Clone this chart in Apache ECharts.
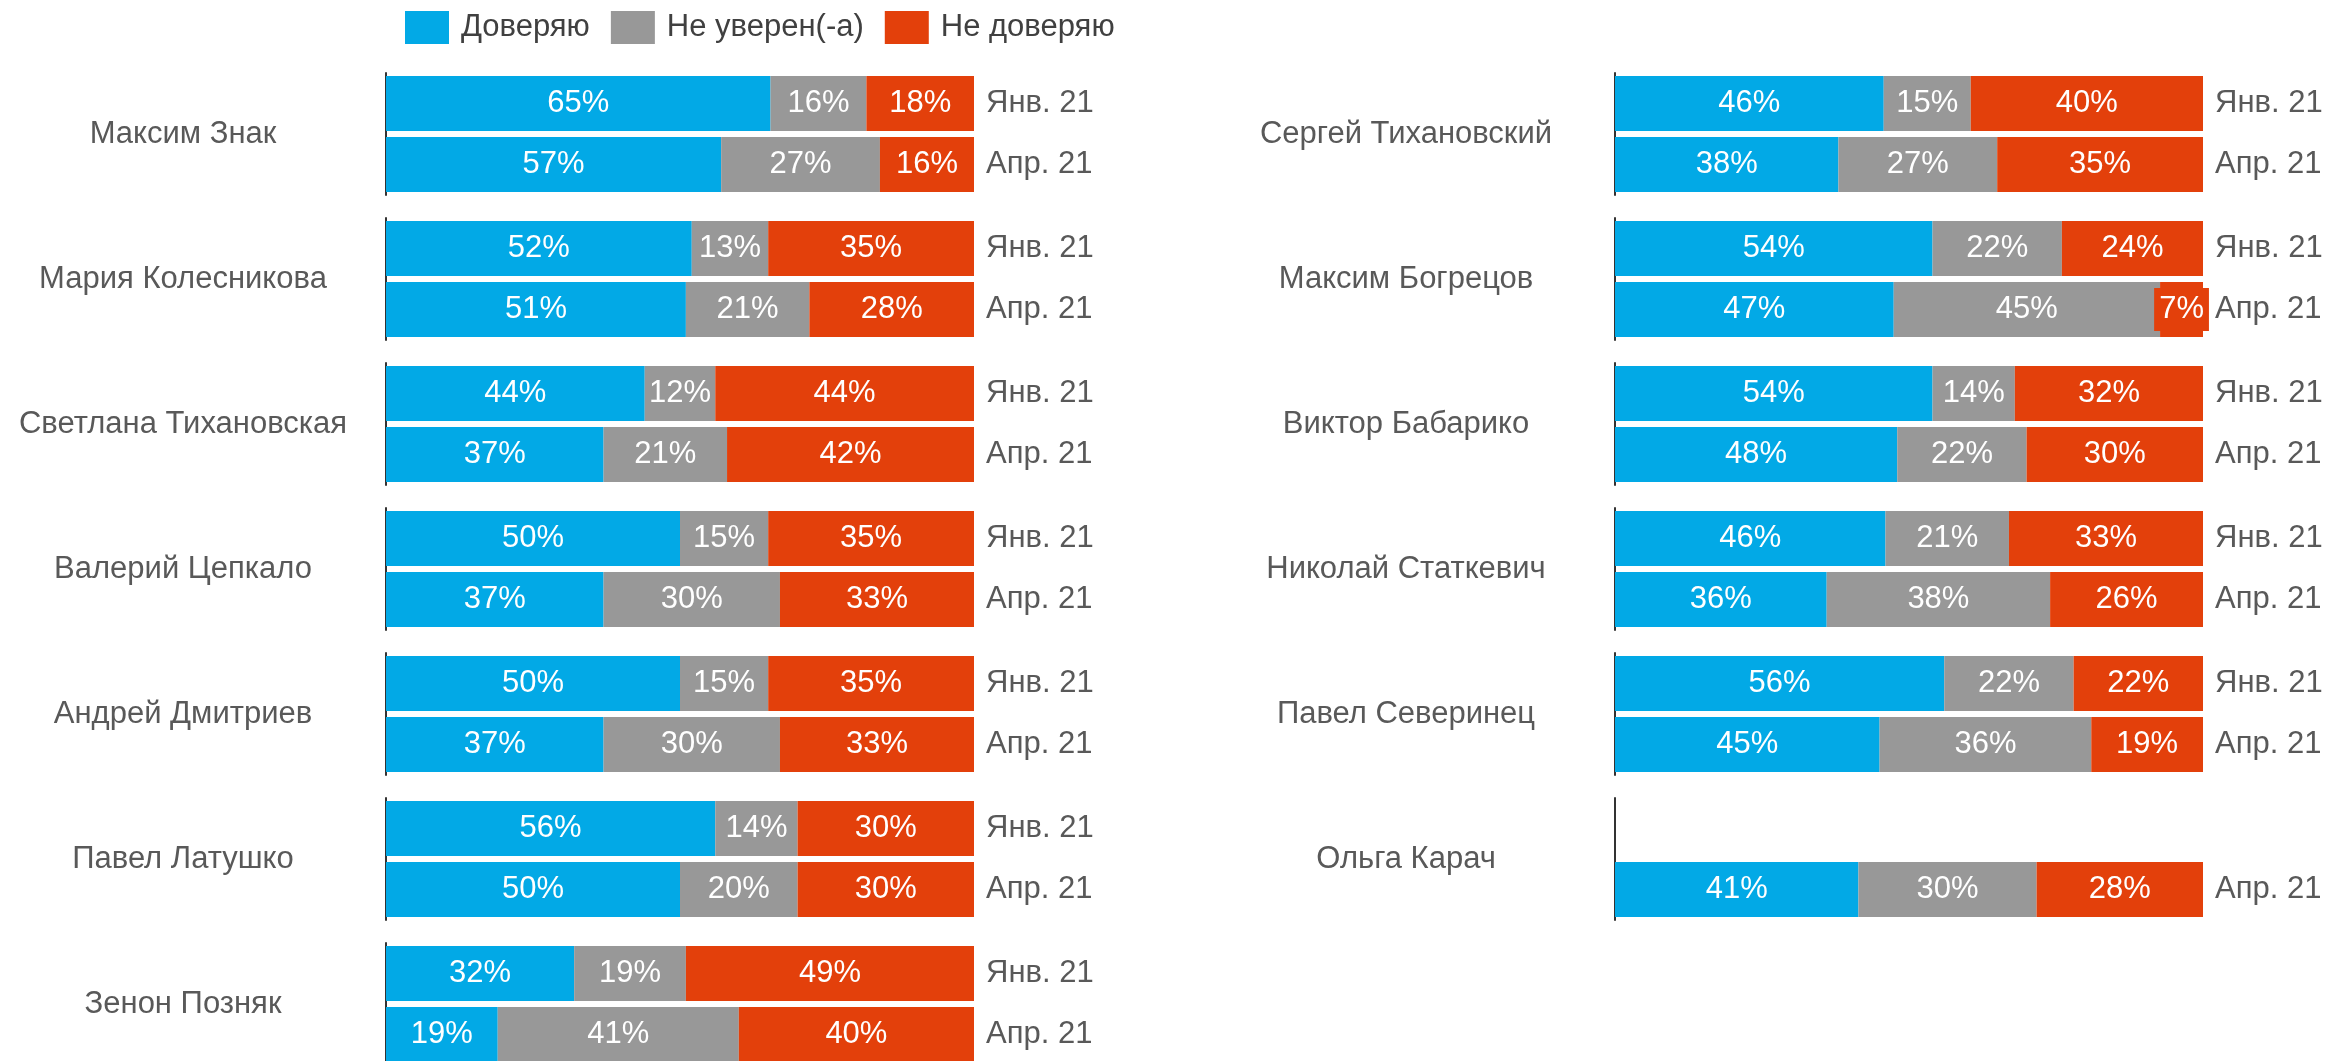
<!DOCTYPE html>
<html>
<head>
<meta charset="utf-8">
<script src="https://cdn.jsdelivr.net/npm/echarts@6/dist/echarts.min.js"></script>
<style>
  html, body { margin: 0; padding: 0; background: #fff; }
  #Chart { width: 2328px; height: 1061px; }
</style>
</head>
<body>
<div id="Chart"></div>
<script>
// кандидаты: первые 7 - левая колонка, остальные - правая
const names = [
  'Максим Знак', 'Мария Колесникова', 'Светлана Тихановская', 'Валерий Цепкало',
  'Андрей Дмитриев', 'Павел Латушко', 'Зенон Позняк',
  'Сергей Тихановский', 'Максим Богрецов', 'Виктор Бабарико', 'Николай Статкевич',
  'Павел Северинец', 'Ольга Карач'
];
const periods = ['Янв. 21', 'Апр. 21'];
const legendNames = ['Доверяю', 'Не уверен(-а)', 'Не доверяю'];

const trustJan    = [65.4, 52, 44, 50, 50, 56, 32, 45.7, 54, 54, 46, 56, null];
const unsureJan   = [16.3, 13, 12, 15, 15, 14, 19, 14.8, 22, 14, 21, 22, null];
const distrustJan = [18.3, 35, 44, 35, 35, 30, 49, 39.5, 24, 32, 33, 22, null];

const trustApr    = [57, 51, 37, 37, 37, 50, 19, 38, 47.4, 48, 36, 45, 41.4];
const unsureApr   = [27, 21, 21, 30, 30, 20, 41, 27, 45.3, 22, 38, 36, 30.3];
const distrustApr = [16, 28, 42, 33, 33, 30, 40, 35, 7.3, 30, 26, 19, 28.3];

const colors = ['#02A9E6', '#989898', '#E3400B'];

let chart = document.getElementById('Chart');
let mainChart = echarts.init(chart);

let grids = [], xAxes = [], yAxes = [], series = [];

names.forEach(function (name, i) {
  let right = i >= 7;
  let row = right ? i - 7 : i;
  grids.push({
    left: right ? 1615 : 386,
    top: 73 + row * 145,
    width: 588,
    height: 122,
    containLabel: false,
    outerBoundsMode: 'none'
  });
  xAxes.push({
    type: 'value', gridIndex: i, min: 0, max: 100, show: false
  });
  // левая ось - линия и имя кандидата
  yAxes.push({
    type: 'category', gridIndex: i, position: 'left', inverse: true,
    data: periods,
    axisLine: { show: true, lineStyle: { color: '#333333', width: 2 } },
    axisTick: { show: false },
    axisLabel: { show: false },
    splitLine: { show: false },
    name: name,
    nameLocation: 'middle',
    nameRotate: 0,
    nameGap: right ? 209 : 203,
    nameTextStyle: { fontSize: 31, color: '#595959', align: 'center', verticalAlign: 'middle' }
  });
  // правая ось - подписи периодов
  yAxes.push({
    type: 'category', gridIndex: i, position: 'right', inverse: true,
    data: trustJan[i] == null ? ['', periods[1]] : periods,
    axisLine: { show: false },
    axisTick: { show: false },
    splitLine: { show: false },
    axisLabel: { margin: 12, fontSize: 31, color: '#595959' }
  });

  let vals = [
    [trustJan[i], trustApr[i]],
    [unsureJan[i], unsureApr[i]],
    [distrustJan[i], distrustApr[i]]
  ];
  vals.forEach(function (d, k) {
    series.push({
      name: legendNames[k],
      type: 'bar',
      stack: 'g' + i,
      xAxisIndex: i,
      yAxisIndex: i * 2,
      barWidth: 55,
      itemStyle: { color: colors[k] },
      label: {
        show: true, position: 'inside', color: '#ffffff', fontSize: 31,
        formatter: function (p) { return p.value == null ? '' : Math.round(p.value) + '%'; }
      },
      data: d.map(function (v) {
        if (v != null && v < 10) {
          return { value: v, label: { backgroundColor: colors[k], padding: [6, 5] } };
        }
        return v;
      })
    });
  });
});

var option = {
  animation: false,
  backgroundColor: '#ffffff',
  textStyle: { fontFamily: 'Liberation Sans, Arial, sans-serif' },
  legend: {
    data: legendNames,
    left: 405,
    top: 11,
    padding: 0,
    icon: 'rect',
    itemWidth: 44,
    itemHeight: 33,
    itemGap: 21,
    selectedMode: false,
    textStyle: { fontSize: 31, color: '#404040', padding: [0, 0, 0, 7] }
  },
  tooltip: { show: false },
  grid: grids,
  xAxis: xAxes,
  yAxis: yAxes,
  series: series
};
mainChart.setOption(option);
</script>
</body>
</html>
